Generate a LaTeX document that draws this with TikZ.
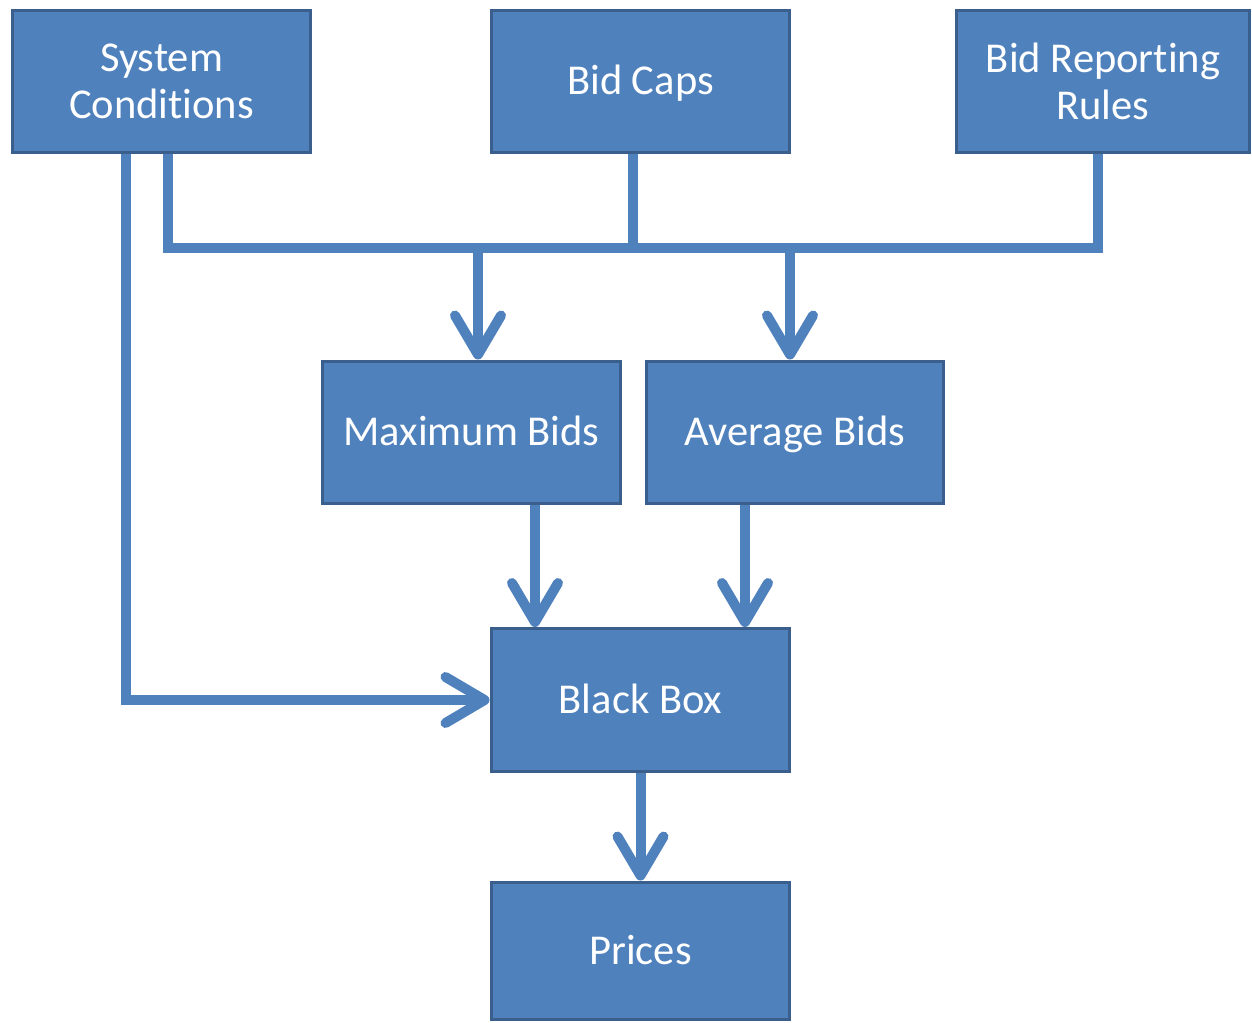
\documentclass[tikz,border=0pt]{standalone}
\usepackage{fontspec}
\setmainfont{Carlito}[Ligatures=NoCommon]
\usetikzlibrary{arrows.meta,calc}
\definecolor{boxfill}{HTML}{4F81BD}
\definecolor{boxedge}{HTML}{3A5F8C}
\definecolor{linkc}{HTML}{4F81BD}
\tikzset{
  blk/.style={draw=boxedge, line width=0.06cm, fill=boxfill, text=white,
    minimum width=5.98cm, minimum height=2.86cm, inner sep=0pt, align=center,
    font=\fontsize{24.2}{27}\selectfont},
  oneline/.style={text height=18.5pt, text depth=3.5pt},
  link/.style={draw=linkc, line width=0.2cm, line join=miter},
  arr/.style={link, -{Straight Barb[length=0.78cm, width=0.92cm, round]}}
}
\begin{document}
\begin{tikzpicture}[x=0.02cm, y=-0.02cm]
\useasboundingbox (0,0) rectangle (1252,1022);
\node[blk] (sc) at (161.5,81.5) {System\\Conditions};
\node[blk, oneline] (bc) at (640.5,81.5) {Bid Caps};
\node[blk, minimum width=5.88cm] (rr) at (1103,81.5) {Bid Reporting\\Rules};
\node[blk, oneline] (mb) at (471.5,432.5) {Maximum Bids};
\node[blk, oneline, minimum width=5.96cm] (ab) at (795,432.5) {Average Bids};
\node[blk, oneline] (bb) at (640.5,700) {Black Box};
\node[blk, oneline, minimum height=2.76cm] (pr) at (640.5,951) {Prices};
\coordinate (busL) at (168,248);
\coordinate (busR) at (1098,248);
% bus
\draw[link] (sc.south -| busL) -- (busL) -- (busR) -- (rr.south -| busR);
\draw[link] ([xshift=-0.15cm]bc.south) -- ([xshift=-0.15cm]bc.south |- busL);
\draw[arr] ([xshift=0.13cm]mb.north |- busL) -- ([xshift=0.13cm]mb.north);
\draw[arr] ([xshift=-0.1cm]ab.north |- busL) -- ([xshift=-0.1cm]ab.north);
% system conditions to black box
\draw[arr] ([xshift=-0.71cm]sc.south) |- (bb.west);
% bids to black box
\draw[arr] ([xshift=1.27cm]mb.south) -- ([xshift=1.27cm]mb.south |- bb.north);
\draw[arr] ([xshift=-1.0cm]ab.south) -- ([xshift=-1.0cm]ab.south |- bb.north);
% black box to prices
\draw[arr] (bb.south) -- (pr.north);
\end{tikzpicture}
\end{document}
